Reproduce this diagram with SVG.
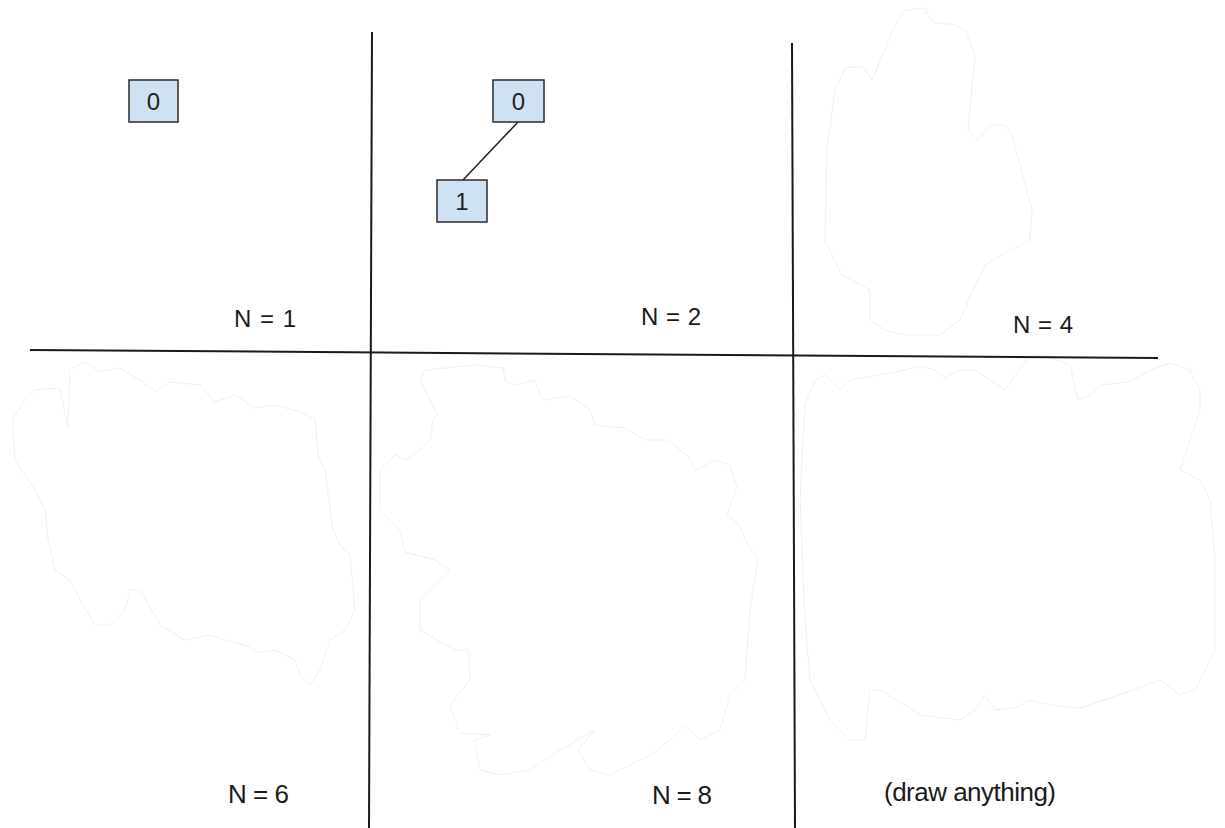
<svg xmlns="http://www.w3.org/2000/svg" width="1225" height="828" viewBox="0 0 1225 828">
<style>
.grid{stroke:#1a1a1a;stroke-width:2;fill:none;stroke-linecap:butt}
.blob{fill:#ffffff;stroke:#efefef;stroke-width:1;stroke-linejoin:round}
.box{fill:#cfe2f3;stroke:#2b2b2b;stroke-width:1.5}
.num{font-family:"Liberation Sans",Arial,sans-serif;font-size:24px;fill:#1f1f1f;text-anchor:middle}
.lbl{font-family:"Liberation Sans",Arial,sans-serif;font-size:24px;fill:#1a1a1a}
.lbl2{font-family:"Liberation Sans",Arial,sans-serif;font-size:26px;fill:#1a1a1a}
.edge{stroke:#222;stroke-width:1.5;fill:none}
</style>
<rect width="1225" height="828" fill="#ffffff"/>
<g id="erased">
<path class="blob" d="M895,25 L905,10 L925,8 L932,22 L955,25 L965,30 L975,55 L968,130 L978,140 L990,125 L1005,125 L1012,135 L1032,210 L1030,240 L1010,250 L985,265 L968,300 L960,320 L940,335 L905,335 L885,330 L870,320 L870,290 L842,275 L825,240 L827,150 L835,90 L845,68 L862,66 L872,80 Z"/>
<path class="blob" d="M68,428 L70,370 L85,362 L100,372 L120,368 L140,380 L155,392 L170,382 L200,385 L215,402 L235,395 L255,408 L275,405 L300,412 L315,420 L318,455 L325,470 L333,530 L340,545 L350,555 L355,610 L345,630 L330,640 L320,670 L310,685 L300,675 L295,660 L275,650 L260,653 L245,645 L225,640 L210,635 L185,640 L160,625 L150,607 L140,590 L130,590 L125,610 L110,625 L95,625 L80,600 L70,580 L55,570 L48,540 L45,510 L35,490 L15,460 L12,420 L25,400 L35,390 L60,388 Z"/>
<path class="blob" d="M425,370 L475,365 L503,368 L505,380 L515,385 L535,380 L540,395 L545,400 L570,396 L590,410 L595,425 L625,428 L645,440 L668,440 L690,458 L695,470 L715,460 L730,465 L737,487 L727,515 L740,525 L745,540 L758,560 L750,610 L745,680 L730,695 L720,730 L700,740 L685,725 L670,740 L650,755 L610,775 L590,770 L578,750 L595,730 L560,750 L530,770 L500,775 L480,770 L475,740 L490,735 L460,733 L450,705 L470,680 L468,650 L455,650 L420,630 L420,600 L450,570 L435,560 L405,552 L400,530 L380,510 L380,470 L395,455 L406,460 L420,450 L430,440 L433,420 L437,415 L420,380 Z"/>
<path class="blob" d="M805,405 L815,380 L825,375 L840,390 L850,380 L880,375 L905,370 L920,366 L935,370 L945,378 L960,370 L975,370 L990,380 L1005,390 L1030,355 L1045,355 L1070,365 L1078,400 L1090,395 L1100,385 L1130,382 L1150,370 L1170,363 L1190,370 L1200,390 L1200,410 L1180,470 L1200,480 L1210,500 L1215,560 L1215,650 L1195,690 L1180,695 L1160,680 L1125,693 L1080,708 L1050,705 L1030,700 L1015,708 L995,710 L985,695 L975,710 L960,720 L920,715 L905,705 L880,690 L870,690 L865,740 L850,740 L830,720 L810,680 L805,620 L800,500 Z"/>
</g>
<g id="grid">
<line class="grid" x1="372" y1="32" x2="369" y2="828"/>
<line class="grid" x1="792" y1="43" x2="795" y2="828"/>
<line class="grid" x1="30" y1="350" x2="1158" y2="358"/>
</g>
<g id="connectors">
<line class="edge" x1="518" y1="122" x2="463" y2="180"/>
</g>
<g id="n1-node0">
<rect class="box" x="129" y="80" width="49" height="42"/>
<text class="num" x="153.5" y="110">0</text>
</g>
<g id="n2-node0">
<rect class="box" x="493" y="80" width="51" height="42"/>
<text class="num" x="518.5" y="110">0</text>
</g>
<g id="n2-node1">
<rect class="box" x="437" y="180" width="50" height="42"/>
<text class="num" x="462" y="210">1</text>
</g>
<g id="labels">
<text class="lbl" x="234" y="327" textLength="62">N = 1</text>
<text class="lbl" x="641" y="325" textLength="60">N = 2</text>
<text class="lbl" x="1013" y="333" textLength="60">N = 4</text>
<text class="lbl2" x="228" y="803" textLength="61">N = 6</text>
<text class="lbl2" x="652" y="804" textLength="60">N = 8</text>
<text class="lbl2" x="884" y="801" textLength="172">(draw anything)</text>
</g>
</svg>
